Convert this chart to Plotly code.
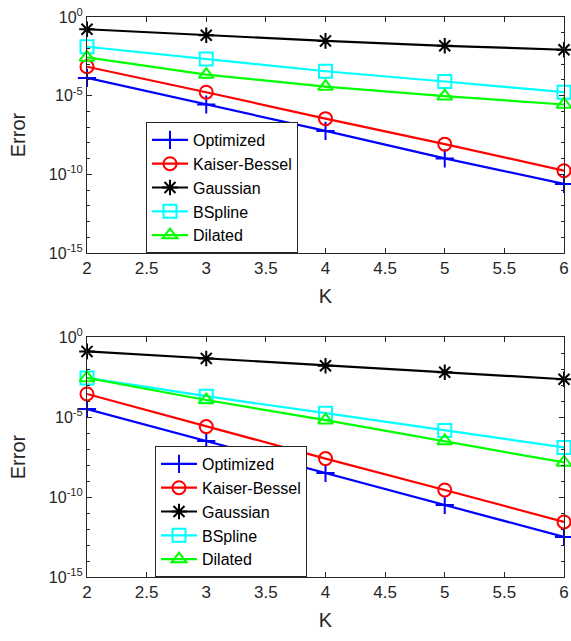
import plotly.graph_objects as go

K = [2, 3, 4, 5, 6]
names = ["Optimized", "Kaiser-Bessel", "Gaussian", "BSpline", "Dilated"]

# top panel: log10 of error values
top_opt = [-3.87, -5.56, -7.24, -8.99, -10.61]
top_kb = [-3.16, -4.78, -6.46, -8.08, -9.77]
top_gauss = [-0.78, -1.16, -1.52, -1.83, -2.08]
top_bspl = [-1.89, -2.67, -3.45, -4.10, -4.78]
top_dil = [-2.57, -3.66, -4.42, -5.03, -5.56]

# bottom panel: log10 of error values
bot_opt = [-4.5, -6.5, -8.5, -10.5, -12.5]
bot_kb = [-3.56, -5.6, -7.6, -9.56, -11.56]
bot_gauss = [-0.9, -1.34, -1.8, -2.2, -2.64]
bot_bspl = [-2.56, -3.7, -4.76, -5.84, -6.9]
bot_dil = [-2.56, -3.94, -5.2, -6.5, -7.84]

x_ticks = [2, 2.5, 3, 3.5, 4, 4.5, 5, 5.5, 6]
x_tick_text = ["2", "2.5", "3", "3.5", "4", "4.5", "5", "5.5", "6"]
y_ticks = [1e0, 1e-5, 1e-10, 1e-15]
y_tick_text = ["10<sup>0</sup>", "10<sup>-5</sup>", "10<sup>-10</sup>", "10<sup>-15</sup>"]

colors = ["#0000ff", "#ff0000", "#000000", "#00ffff", "#00ff00"]
symbols = ["cross-thin-open", "circle-open", "asterisk-open", "square-open", "triangle-up-open"]

fig = go.Figure()

def add_panel(series, xa, ya, legend):
    for name, vals, c, s in zip(names, series, colors, symbols):
        fig.add_trace(go.Scatter(
            x=K, y=[10 ** v for v in vals], name=name, mode="lines+markers",
            line=dict(color=c, width=2.2),
            marker=dict(symbol=s, size=13, color=c, line=dict(color=c, width=2)),
            xaxis=xa, yaxis=ya, legend=legend, cliponaxis=False))

add_panel([top_opt, top_kb, top_gauss, top_bspl, top_dil], "x", "y", "legend")
add_panel([bot_opt, bot_kb, bot_gauss, bot_bspl, bot_dil], "x2", "y2", "legend2")

W, H = 571, 641
FAM = "Liberation Sans, Arial, sans-serif"
TXT = "#262626"

def xaxis(anchor, domain):
    return dict(domain=domain, anchor=anchor, range=[2, 6], tickvals=x_ticks, ticktext=x_tick_text,
                ticks="inside", ticklen=5, tickcolor=TXT, showline=True, linecolor=TXT, linewidth=1,
                mirror="ticks", showgrid=False, zeroline=False, automargin=False,
                tickfont=dict(family=FAM, size=17, color=TXT),
                title=dict(text="K", font=dict(family=FAM, size=20, color=TXT), standoff=11))

def yaxis(anchor, domain):
    return dict(domain=domain, anchor=anchor, type="log", range=[-15, 0], tickvals=y_ticks,
                ticktext=y_tick_text, ticks="inside", ticklen=5, tickcolor=TXT, showline=True,
                linecolor=TXT, linewidth=1, mirror="ticks", showgrid=False, zeroline=False,
                automargin=False, tickfont=dict(family=FAM, size=16, color=TXT),
                minor=dict(tickvals=[10 ** (-i) for i in range(16)], ticks="inside", ticklen=3,
                           tickcolor=TXT, showgrid=False),
                title=dict(text="Error", font=dict(family=FAM, size=20, color=TXT), standoff=17))

xd = [87 / W, 564 / W]
legfont = dict(family=FAM, size=16, color="#000")
fig.update_layout(
    width=W, height=H, paper_bgcolor="white", plot_bgcolor="white",
    margin=dict(l=0, r=0, t=0, b=0),
    xaxis=xaxis("y", xd), yaxis=yaxis("x", [1 - 253 / H, 1 - 17 / H]),
    xaxis2=xaxis("y2", xd), yaxis2=yaxis("x2", [1 - 577 / H, 1 - 337 / H]),
    legend=dict(x=146 / W, y=1 - 122 / H, xanchor="left", yanchor="top",
                bgcolor="white", bordercolor=TXT, borderwidth=1, font=legfont,
                tracegroupgap=0, itemwidth=36),
    legend2=dict(x=155 / W, y=1 - 446 / H, xanchor="left", yanchor="top",
                 bgcolor="white", bordercolor=TXT, borderwidth=1, font=legfont,
                 tracegroupgap=0, itemwidth=36),
    showlegend=True,
)

fig.write_html("out.html", config={"displayModeBar": False},
               post_script="document.body.style.margin='0';document.body.style.overflow='hidden';")
